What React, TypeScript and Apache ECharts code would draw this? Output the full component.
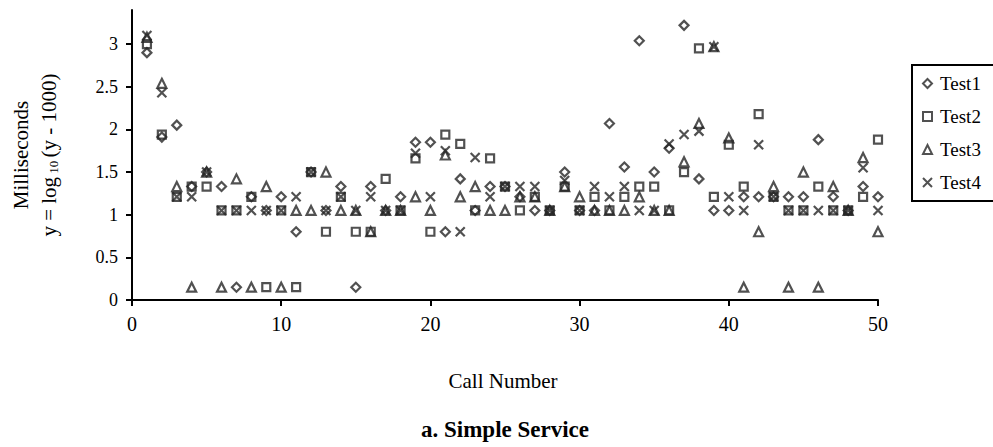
import React, { useEffect, useRef } from "react";
import * as echarts from "echarts";

// Response times per call, plotted as log10(ms - 1000)
const test1 = [
  2.9, 1.91, 2.05, 1.33, 1.5, 1.33, 0.15, 1.21, 1.05, 1.21,
  0.8, 1.5, 1.05, 1.33, 0.15, 1.33, 1.05, 1.21, 1.85, 1.85,
  0.8, 1.42, 1.05, 1.33, 1.33, 1.21, 1.05, 1.05, 1.5, 1.05,
  1.05, 2.07, 1.56, 3.04, 1.5, 1.78, 3.22, 1.42, 1.05, 1.05,
  1.21, 1.21, 1.21, 1.21, 1.21, 1.88, 1.21, 1.05, 1.33, 1.21,
];
const test2 = [
  3.0, 1.94, 1.21, 1.33, 1.33, 1.05, 1.05, 1.21, 0.15, 1.05,
  0.15, 1.5, 0.8, 1.21, 0.8, 0.8, 1.42, 1.05, 1.66, 0.8,
  1.94, 1.83, 1.05, 1.66, 1.33, 1.05, 1.21, 1.05, 1.33, 1.05,
  1.21, 1.05, 1.21, 1.33, 1.33, 1.05, 1.5, 2.95, 1.21, 1.82,
  1.33, 2.18, 1.21, 1.05, 1.05, 1.33, 1.05, 1.05, 1.21, 1.88,
];
const test3 = [
  3.08, 2.54, 1.33, 0.15, 1.5, 0.15, 1.42, 0.15, 1.33, 0.15,
  1.05, 1.05, 1.5, 1.05, 1.05, 0.8, 1.05, 1.05, 1.21, 1.05,
  1.7, 1.21, 1.33, 1.05, 1.05, 1.21, 1.21, 1.05, 1.33, 1.21,
  1.05, 1.05, 1.05, 1.21, 1.05, 1.05, 1.62, 2.07, 2.97, 1.9,
  0.15, 0.8, 1.33, 0.15, 1.5, 0.15, 1.33, 1.05, 1.67, 0.8,
];
const test4 = [
  3.1, 2.43, 1.21, 1.21, 1.5, 1.05, 1.05, 1.05, 1.05, 1.05,
  1.21, 1.5, 1.05, 1.21, 1.05, 1.21, 1.05, 1.05, 1.72, 1.21,
  1.75, 0.8, 1.67, 1.21, 1.33, 1.33, 1.33, 1.05, 1.4, 1.05,
  1.33, 1.21, 1.33, 1.05, 1.05, 1.83, 1.94, 1.98, 2.97, 1.21,
  1.05, 1.82, 1.21, 1.05, 1.05, 1.05, 1.05, 1.05, 1.55, 1.05,
];

const seriesNames = ["Test1", "Test2", "Test3", "Test4"];
const yTickValues = [0, 0.5, 1, 1.5, 2, 2.5, 3];
const xTickInterval = 10;

const FONT = "'Liberation Serif', 'Times New Roman', serif";
const INK = "#262626";
const CROSS = "path://M0,0L10,10M10,0L0,10";

function toPoints(values: number[]) {
  return values.map((v, i) => [i + 1, v]);
}

export default function App() {
  const ref = useRef<HTMLDivElement>(null);

  useEffect(() => {
    if (!ref.current) return;
    const chart = echarts.init(ref.current, undefined, { renderer: "svg" });

    const markers = [
      { symbol: "diamond", size: 9 },
      { symbol: "rect", size: 8 },
      { symbol: "triangle", size: 9 },
      { symbol: CROSS, size: 9 },
    ];
    const allData = [test1, test2, test3, test4];

    chart.setOption({
      animation: false,
      backgroundColor: "#fff",
      grid: { left: 132, right: 115, top: 10, bottom: 147, containLabel: false },
      xAxis: {
        type: "value",
        min: 0,
        max: 50,
        interval: xTickInterval,
        axisLine: { lineStyle: { color: "#000", width: 2 } },
        axisTick: { length: 6, lineStyle: { color: "#000", width: 2 } },
        axisLabel: { color: "#000", fontFamily: FONT, fontSize: 20, margin: 14 },
        splitLine: { show: false },
      },
      yAxis: {
        type: "value",
        min: 0,
        max: 3.4,
        interval: 0.5,
        axisLine: { show: true, lineStyle: { color: "#000", width: 2 } },
        axisTick: {
          show: true,
          length: 6,
          lineStyle: { color: "#000", width: 2 },
          customValues: yTickValues,
        },
        axisLabel: {
          color: "#000",
          fontFamily: FONT,
          fontSize: 18,
          margin: 14,
          customValues: yTickValues,
          formatter: (v: number) => String(v),
        },
        splitLine: { show: false },
      },
      legend: {
        orient: "vertical",
        left: 912,
        top: 65,
        padding: [9, 18, 9, 10],
        itemGap: 14,
        itemWidth: 9,
        itemHeight: 9,
        borderColor: "#000",
        borderWidth: 2,
        data: seriesNames,
        textStyle: { color: "#000", fontFamily: FONT, fontSize: 19, padding: [0, 0, 0, 3] },
      },
      series: seriesNames.map((name, k) => ({
        name,
        type: "scatter",
        symbol: markers[k].symbol,
        symbolSize: markers[k].size,
        data: toPoints(allData[k]),
        itemStyle: { color: "rgba(0,0,0,0)", borderColor: INK, borderWidth: 2.2 },
        emphasis: { disabled: true },
      })),
      graphic: [
        {
          type: "text",
          x: 21,
          y: 155,
          rotation: Math.PI / 2,
          style: {
            text: "Milliseconds",
            fontFamily: FONT,
            fontSize: 21,
            fill: "#000",
            align: "center",
            verticalAlign: "middle",
          },
        },
        {
          type: "text",
          x: 49,
          y: 155,
          rotation: Math.PI / 2,
          style: {
            text: "{a|y = log}{s| 10 }{a|(y - 1000)}",
            fontFamily: FONT,
            fill: "#000",
            align: "center",
            verticalAlign: "middle",
            rich: {
              a: { fontFamily: FONT, fontSize: 21, fill: "#000", lineHeight: 24 },
              s: { fontFamily: FONT, fontSize: 13, fill: "#000", lineHeight: 24, padding: [8, 0, 0, 0] },
            },
          },
        },
        {
          type: "text",
          x: 503,
          y: 381,
          style: {
            text: "Call Number",
            fontFamily: FONT,
            fontSize: 21,
            fill: "#000",
            align: "center",
            verticalAlign: "middle",
          },
        },
        {
          type: "text",
          x: 505,
          y: 429,
          style: {
            text: "a. Simple Service",
            fontFamily: FONT,
            fontSize: 23,
            fontWeight: "bold",
            fill: "#000",
            align: "center",
            verticalAlign: "middle",
          },
        },
      ],
    });

    return () => chart.dispose();
  }, []);

  return (
    <div
      ref={ref}
      style={{ position: "fixed", left: 0, top: 0, width: 993, height: 447, background: "#fff" }}
    />
  );
}
